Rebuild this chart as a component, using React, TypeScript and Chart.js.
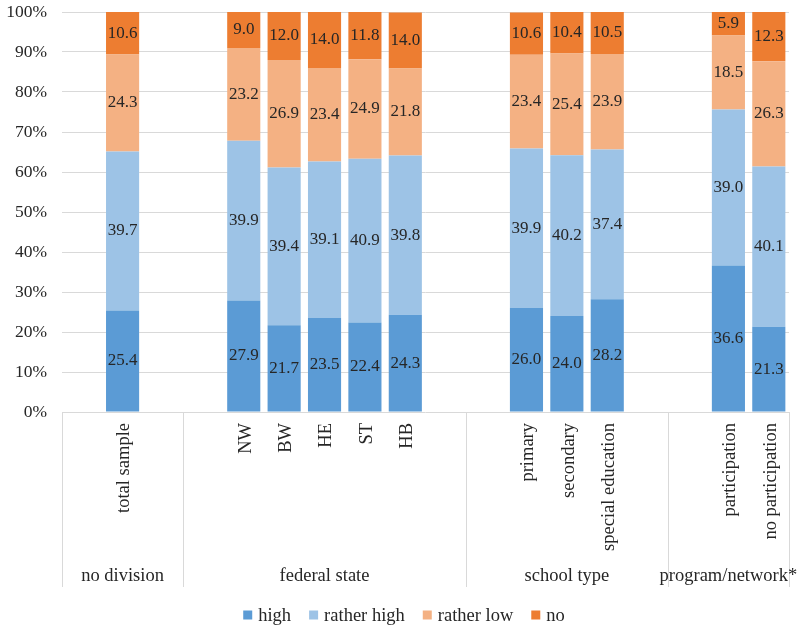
import React, { useEffect, useRef } from "react";
import { Chart, registerables } from "chart.js";

Chart.register(...registerables);

const categories = [
  "", "total sample", "",
  "", "NW", "BW", "HE", "ST", "HB", "",
  "", "primary", "secondary", "special education", "",
  "", "participation", "no participation",
];
const highVals = [null, 25.4, null, null, 27.9, 21.7, 23.5, 22.4, 24.3, null, null, 26.0, 24.0, 28.2, null, null, 36.6, 21.3];
const ratherHighVals = [null, 39.7, null, null, 39.9, 39.4, 39.1, 40.9, 39.8, null, null, 39.9, 40.2, 37.4, null, null, 39.0, 40.1];
const ratherLowVals = [null, 24.3, null, null, 23.2, 26.9, 23.4, 24.9, 21.8, null, null, 23.4, 25.4, 23.9, null, null, 18.5, 26.3];
const noVals = [null, 10.6, null, null, 9.0, 12.0, 14.0, 11.8, 14.0, null, null, 10.6, 10.4, 10.5, null, null, 5.9, 12.3];
const seriesNames = ["high", "rather high", "rather low", "no"];
const seriesColors = ["#5B9BD5", "#9DC3E6", "#F4B183", "#ED7D31"];
const groupLabels = ["no division", "federal state", "school type", "program/network*"];
const groupSizes = [3, 7, 5, 3];

const FONT = '"Liberation Serif", "Times New Roman", serif';
const TEXT = "#262626";
const GRID = "#d9d9d9";

const dataLabelPlugin = {
  id: "dataLabels",
  afterDatasetsDraw(chart: any) {
    const ctx = chart.ctx;
    ctx.save();
    ctx.font = `17px ${FONT}`;
    ctx.fillStyle = TEXT;
    ctx.textAlign = "center";
    ctx.textBaseline = "middle";
    chart.data.datasets.forEach((ds: any, di: number) => {
      const meta = chart.getDatasetMeta(di);
      meta.data.forEach((el: any, i: number) => {
        const v = ds.data[i];
        if (v === null || v === undefined) return;
        const p = el.getProps(["x", "y", "base"], true);
        ctx.fillText(Number(v).toFixed(1), p.x, (p.y + p.base) / 2);
      });
    });
    ctx.restore();
  },
};

const axisPlugin = {
  id: "multiAxis",
  afterDraw(chart: any) {
    const ctx = chart.ctx;
    const area = chart.chartArea;
    const xs = chart.scales.x;
    const n = categories.length;
    const slot = (area.right - area.left) / n;
    const bottom = area.bottom + 175;
    ctx.save();
    // category labels (rotated)
    ctx.font = `18.5px ${FONT}`;
    ctx.fillStyle = TEXT;
    ctx.textAlign = "right";
    ctx.textBaseline = "middle";
    categories.forEach((c, i) => {
      if (!c) return;
      const x = xs.getPixelForValue(i);
      ctx.save();
      ctx.translate(x + 2, area.bottom + 11);
      ctx.rotate(-Math.PI / 2);
      ctx.fillText(c, 0, 0);
      ctx.restore();
    });
    // separators
    ctx.strokeStyle = GRID;
    ctx.lineWidth = 1;
    let start = 0;
    const bounds = [0];
    groupSizes.forEach((s) => {
      start += s;
      bounds.push(start);
    });
    bounds.forEach((b) => {
      const x = Math.round(area.left + b * slot) + 0.5;
      ctx.beginPath();
      ctx.moveTo(x, area.bottom);
      ctx.lineTo(x, bottom);
      ctx.stroke();
    });
    // group labels
    ctx.textAlign = "center";
    ctx.textBaseline = "middle";
    groupLabels.forEach((g, gi) => {
      const x0 = area.left + bounds[gi] * slot;
      const x1 = area.left + bounds[gi + 1] * slot;
      ctx.fillText(g, (x0 + x1) / 2, area.bottom + 164);
    });
    // legend
    const box = 9;
    const gapBox = 6;
    const gapItem = 18;
    const widths = seriesNames.map((s) => box + gapBox + ctx.measureText(s).width);
    const total = widths.reduce((a, b) => a + b, 0) + gapItem * (seriesNames.length - 1);
    let x = chart.width / 2 + 4 - total / 2;
    const ly = 616;
    ctx.textAlign = "left";
    seriesNames.forEach((s, i) => {
      ctx.fillStyle = seriesColors[i];
      ctx.fillRect(x, ly - box / 2 - 1, box, box);
      ctx.fillStyle = TEXT;
      ctx.fillText(s, x + box + gapBox, ly);
      x += widths[i] + gapItem;
    });
    ctx.restore();
  },
};

export default function App() {
  const ref = useRef<HTMLCanvasElement | null>(null);
  useEffect(() => {
    document.body.style.margin = "0";
    if (!ref.current) return;
    const vals = [highVals, ratherHighVals, ratherLowVals, noVals];
    const chart = new Chart(ref.current, {
      type: "bar",
      data: {
        labels: categories,
        datasets: seriesNames.map((name, i) => ({
          label: name,
          data: vals[i] as any,
          backgroundColor: seriesColors[i],
          borderWidth: 0,
          barPercentage: 0.82,
          categoryPercentage: 1.0,
        })),
      },
      options: {
        animation: false,
        responsive: true,
        maintainAspectRatio: false,
        layout: { padding: { top: 12, right: 11, bottom: 39, left: 0 } },
        plugins: {
          legend: { display: false },
          tooltip: { enabled: false },
        },
        scales: {
          x: {
            stacked: true,
            grid: { display: false },
            border: { display: false },
            ticks: { display: false },
            afterFit: (s: any) => {
              s.height = 175;
            },
          },
          y: {
            stacked: true,
            min: 0,
            max: 100,
            ticks: {
              stepSize: 10,
              padding: 0,
              color: TEXT,
              font: { family: FONT, size: 17.5 },
              callback: (v: any) => `${v}%`,
            },
            grid: {
              color: GRID,
              drawTicks: true,
              tickLength: 15,
              tickColor: "rgba(0,0,0,0)",
              lineWidth: 1,
            },
            border: { display: false },
            afterFit: (s: any) => {
              s.width = 62;
            },
          },
        },
      },
      plugins: [dataLabelPlugin, axisPlugin],
    });
    return () => chart.destroy();
  }, []);
  return (
    <div style={{ position: "relative", width: 800, height: 626 }}>
      <canvas ref={ref} />
    </div>
  );
}
